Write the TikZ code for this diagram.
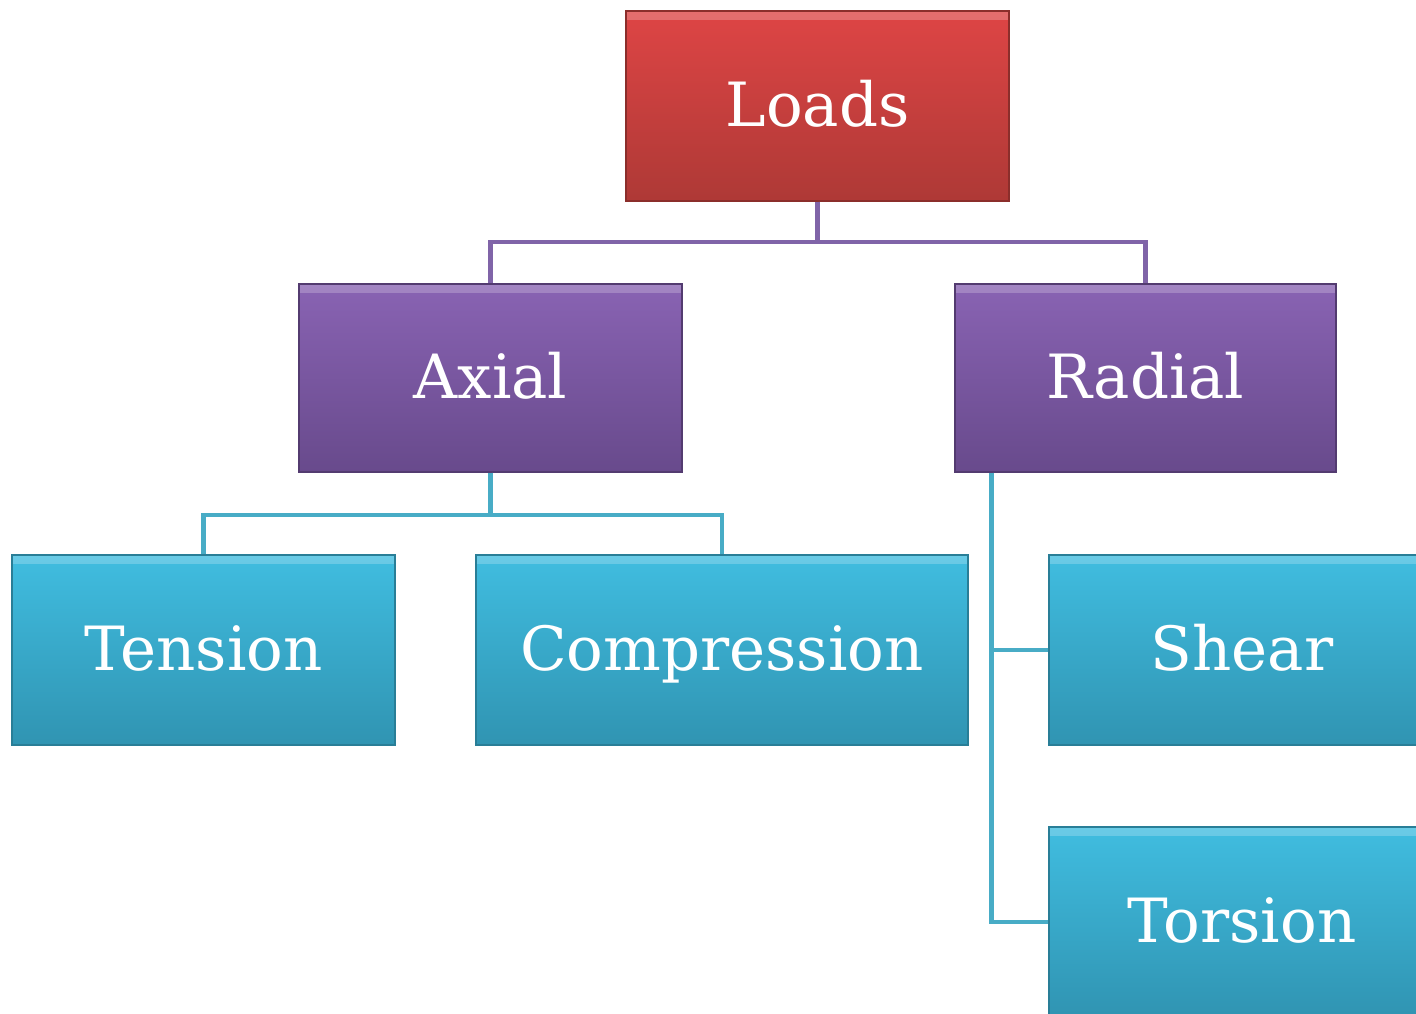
\documentclass[tikz,border=0pt]{standalone}
\usepackage{fontspec}
\setmainfont{DejaVu Serif}
\usetikzlibrary{positioning}

\definecolor{loadtop}{HTML}{DE4545}
\definecolor{loadbot}{HTML}{AE3936}
\definecolor{purtop}{HTML}{8963B3}
\definecolor{purbot}{HTML}{684A8C}
\definecolor{cyantop}{HTML}{40BDE0}
\definecolor{cyanbot}{HTML}{3094B2}
\definecolor{purline}{HTML}{8064A8}
\definecolor{cyanline}{HTML}{48ACC6}

\begin{document}
\begin{tikzpicture}[
  x=1pt,
  y=-1pt,
  box/.style={
    rectangle,
    minimum height=190pt,
    inner sep=0pt,
    line width=1.2pt,
    text=white,
    text height=55pt,
    text depth=15pt,
    font=\fontsize{61}{72}\selectfont,
    path picture={
      \fill[white, opacity=0.22] (path picture bounding box.north west) rectangle ([yshift=-9pt]path picture bounding box.north east);
    }
  },
  redbox/.style={box, top color=loadtop, bottom color=loadbot, draw=loadbot!80!black},
  purbox/.style={box, top color=purtop, bottom color=purbot, draw=purbot!80!black},
  cyanbox/.style={box, top color=cyantop, bottom color=cyanbot, draw=cyanbot!85!black},
  lnk/.style={line width=4.2pt},
  lnkpur/.style={lnk, draw=purline},
  lnkcyan/.style={lnk, draw=cyanline}
]
\useasboundingbox (0,0) rectangle (1416,1013);
\clip (0,0) rectangle (1416,1013);

\node[redbox, minimum width=383pt] (loads) at (817.5,106) {Loads};

\node[purbox, minimum width=383pt, minimum height=188pt] (axial)  at (490.5,378) {Axial};
\node[purbox, minimum width=381pt, minimum height=188pt] (radial) at (1145.5,378) {Radial};

\node[cyanbox, minimum width=383pt] (tension)     at (203.5,650) {Tension};
\node[cyanbox, minimum width=492pt] (compression) at (722,650)   {Compression};
\node[cyanbox, minimum width=386pt] (shear)       at (1242,650)  {Shear};
\node[cyanbox, minimum width=386pt] (torsion)     at (1242,922)  {Torsion};

\draw[lnkpur] (loads.south) -- ++(0,40) -| (axial.north);
\draw[lnkpur] (loads.south) -- ++(0,40) -| (radial.north);

\draw[lnkcyan] (axial.south) -- ++(0,42) -| (tension.north);
\draw[lnkcyan] (axial.south) -- ++(0,42) -| (compression.north);

\draw[lnkcyan] ([xshift=37pt]radial.south west) |- (shear.west);
\draw[lnkcyan] ([xshift=37pt]radial.south west) |- (torsion.west);
\end{tikzpicture}
\end{document}
